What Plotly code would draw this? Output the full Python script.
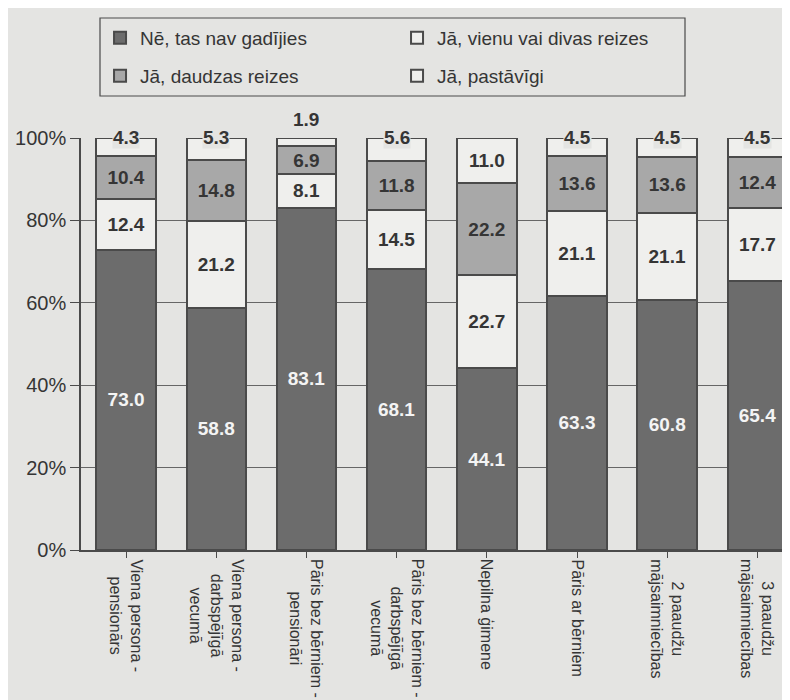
import plotly.graph_objects as go

categories = [
    "Viena persona -<br>pensionārs",
    "Viena persona -<br>darbspējīgā<br>vecumā",
    "Pāris bez bērniem -<br>pensionāri",
    "Pāris bez bērniem -<br>darbspējīgā<br>vecumā",
    "Nepilna ģimene",
    "Pāris ar bērniem",
    "2 paaudžu<br>mājsaimniecības",
    "3 paaudžu<br>mājsaimniecības",
]
series_names = ["Nē, tas nav gadījies", "Jā, vienu vai divas reizes",
                "Jā, daudzas reizes", "Jā, pastāvīgi"]
ne_nav = [73.0, 58.8, 83.1, 68.1, 44.1, 63.3, 60.8, 65.4]
vienu_divas = [12.4, 21.2, 8.1, 14.5, 22.7, 21.1, 21.1, 17.7]
daudzas = [10.4, 14.8, 6.9, 11.8, 22.2, 13.6, 13.6, 12.4]
pastavigi = [4.3, 5.3, 1.9, 5.6, 11.0, 4.5, 4.5, 4.5]
y_ticks = [0, 20, 40, 60, 80, 100]
y_tick_text = ["0%", "20%", "40%", "60%", "80%", "100%"]

PAPER = "#e4e4e2"
LIGHT = "#efefed"
DARK = "#6c6c6c"
MID = "#a8a8a8"
EDGE = "#4a4a4a"
TXT = "#353535"
FONT = "Liberation Sans, Arial, sans-serif"

series = [ne_nav, vienu_divas, daudzas, pastavigi]
fills = [DARK, LIGHT, MID, LIGHT]
txtcol = ["#f4f4f4", TXT, TXT, TXT]
legend_ids = ["legend", "legend", "legend2", "legend2"]

x = list(range(len(categories)))
fig = go.Figure()
for i, (name, vals) in enumerate(zip(series_names, series)):
    if i == 3:
        texts = [f"{v:.1f}" if v >= 8 else "" for v in vals]
    else:
        texts = [f"{v:.1f}" for v in vals]
    fig.add_trace(go.Bar(
        x=x, y=vals, name=name, legend=legend_ids[i],
        marker=dict(color=fills[i], line=dict(color=EDGE, width=2)),
        width=0.66,
        text=texts, texttemplate="%{text}",
        textposition="inside", insidetextanchor="middle", textangle=0,
        textfont=dict(family=FONT, size=19, color=txtcol[i], weight="bold"),
        hoverinfo="skip",
    ))

annotations = []
for i, v in enumerate(pastavigi):
    if v >= 8:
        continue
    small = v < 3
    annotations.append(dict(
        x=i, y=100, xref="x", yref="y", text=f"<b>{v:.1f}</b>",
        showarrow=False, yanchor="bottom" if small else "middle",
        yshift=7 if small else 1,
        font=dict(family=FONT, size=19, color=TXT),
        bgcolor=PAPER, borderpad=0,
    ))

# category labels, rotated and centred line by line
for i, c in enumerate(categories):
    annotations.append(dict(
        x=i, y=0, xref="x", yref="y", text=c, textangle=90,
        showarrow=False, xanchor="center", yanchor="top", align="center",
        yshift=-7, font=dict(family=FONT, size=16, color=TXT),
    ))

leg_common = dict(
    orientation="h", xref="container", yref="container",
    xanchor="left", yanchor="middle", entrywidth=252,
    borderwidth=0, bgcolor="rgba(0,0,0,0)",
    font=dict(family=FONT, size=19, color=TXT), itemwidth=30,
    traceorder="normal",
)

fig.update_layout(
    barmode="stack", barnorm="percent",
    width=790, height=700,
    paper_bgcolor=PAPER, plot_bgcolor=PAPER,
    margin=dict(l=73, r=0, t=130, b=158, autoexpand=False),
    font=dict(family=FONT, size=19, color=TXT),
    uniformtext=dict(minsize=19, mode="show"),
    showlegend=True,
    legend=dict(x=0.1165, y=1 - 30 / 700, **leg_common),
    legend2=dict(x=0.1165, y=1 - 68 / 700, **leg_common),
    annotations=annotations,
    shapes=[dict(
        type="rect", xref="paper", yref="paper",
        x0=(92 - 73) / 717, x1=(677 - 73) / 717,
        y0=(542 - 88) / 412, y1=(542 - 10) / 412,
        line=dict(color=EDGE, width=1.2), fillcolor="rgba(0,0,0,0)",
    )],
)
fig.update_xaxes(
    range=[-0.5, 7.45], tickmode="array", tickvals=x, ticktext=[""] * len(x),
    tickson="boundaries", ticks="outside", ticklen=6,
    tickcolor=EDGE, showline=True, linecolor=EDGE, linewidth=1.5,
    showgrid=False, automargin=False,
)
fig.update_yaxes(
    range=[0, 100], tickmode="array", tickvals=y_ticks, ticktext=y_tick_text,
    ticks="outside", ticklen=9, tickcolor=EDGE, showline=True,
    linecolor=EDGE, linewidth=1.5, showgrid=True, gridcolor="#666666",
    gridwidth=1, zeroline=False, automargin=False,
    tickfont=dict(family=FONT, size=20, color=TXT),
)

fig.write_html("out.html")
